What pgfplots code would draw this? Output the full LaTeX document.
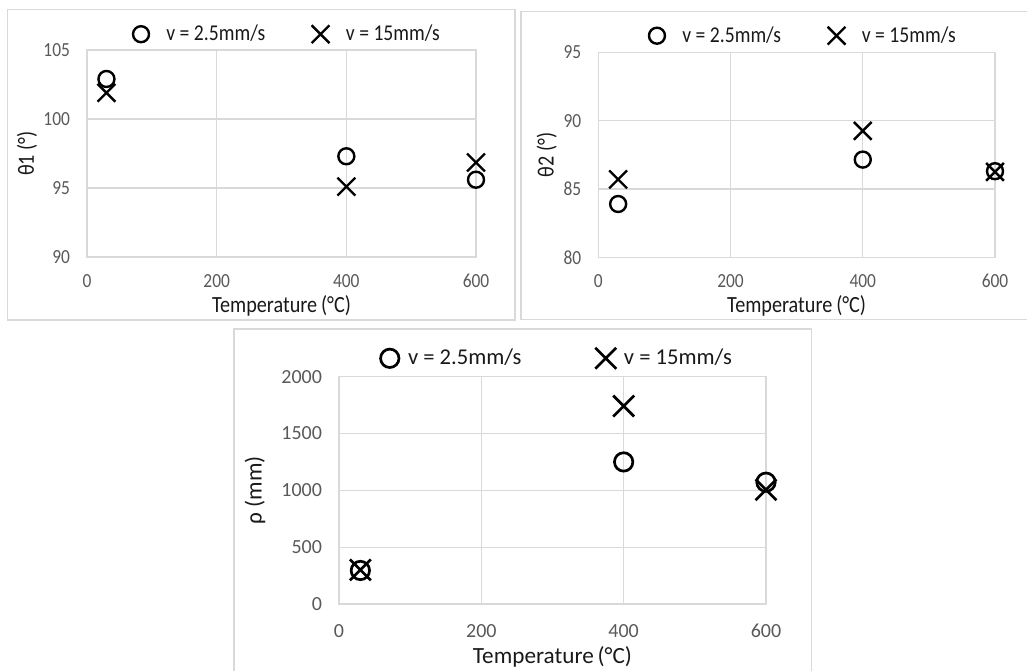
\documentclass[border=0pt]{standalone}
\usepackage{fontspec}
\setmainfont{Carlito}
\newfontfamily\fA{Carlito}[FakeStretch=0.87]
\newfontfamily\fB{Carlito}
\usepackage{pgfplots}
\pgfplotsset{compat=1.18}
\definecolor{gridc}{HTML}{D9D9D9}
\definecolor{tickc}{HTML}{595959}
\definecolor{framec}{HTML}{D9D9D9}
\def\LE{0.2cm}
\pgfplotsset{
  panel/.style={
    scale only axis,
    xmin=0, xmax=600,
    xtick={0,200,400,600},
    ymajorgrids, xmajorgrids,
    grid style={gridc, line width=0.6pt},
    axis line style={gridc, line width=0.6pt},
    major tick style={draw=none},
    /pgf/number format/assume math mode=true,
    /pgf/number format/1000 sep={},
    yticklabel style={xshift=-5pt},
    legend columns=2,
    xlabel={Temperature\,(°C)},
  },
  fontA/.style={
    tick label style={font=\fA\fontsize{10}{12}\selectfont, text=tickc},
    xticklabel style={yshift=-5pt},
    every axis x label/.style={at={([yshift=-24.4pt]axis description cs:0.5,0)}, anchor=center, font=\fA\fontsize{11.6}{13}\selectfont, text=black!90},
    legend style={draw=none, fill=none, font=\fA\fontsize{11.3}{13}\selectfont, text=black!90,
      /tikz/every odd column/.append style={column sep=5pt},
      /tikz/every even column/.append style={column sep=20pt}},
  },
  fontB/.style={
    tick label style={font=\fB\fontsize{10}{12}\selectfont, text=tickc},
    xticklabel style={yshift=-6.5pt},
    every axis x label/.style={at={([yshift=-26.4pt]axis description cs:0.5,0)}, anchor=center, font=\fB\fontsize{11.6}{13}\selectfont, text=black!90},
    legend style={draw=none, fill=none, font=\fB\fontsize{11.3}{13}\selectfont, text=black!90,
      /tikz/every even column/.append style={column sep=33pt}},
  },
  cmark/.style={only marks, mark=o, mark size=4pt, mark options={line width=1.2pt, draw=black},
    legend image code/.code={\path[draw=none,fill=none] (-\LE,-1pt) rectangle (\LE,1pt); \draw[##1,only marks] plot coordinates {(0cm,0cm)};}},
  xmark/.style={only marks, mark=x, mark size=6.3pt, mark options={line width=1.2pt, draw=black},
    legend image code/.code={\path[draw=none,fill=none] (-\LE,-1pt) rectangle (\LE,1pt); \draw[##1,only marks] plot coordinates {(0cm,0cm)};}},
}
\begin{document}
\begin{tikzpicture}
\path[use as bounding box] (0pt,0pt) rectangle (513.5pt,335pt);
% frames
\draw[framec, line width=0.7pt] (3.65pt,175pt) rectangle (257.5pt,330.35pt);
\draw[framec, line width=0.7pt] (513.5pt,329.15pt) -- (260.5pt,329.15pt) -- (260.5pt,175.35pt) -- (513.5pt,175.35pt);
\draw[framec, line width=0.7pt] (117pt,-2pt) -- (117pt,170.5pt) -- (405.85pt,170.5pt) -- (405.85pt,-2pt);

% Panel 1
\begin{axis}[panel, fontA, at={(43.5pt,206.5pt)}, anchor=south west,
  width=194.5pt, height=103.5pt,
  ymin=90, ymax=105, ytick={90,95,100,105},
  legend style={at={([yshift=7.9pt,xshift=2.6pt]axis description cs:0.5,1)}, anchor=center},
  every axis y label/.style={at={([xshift=-30pt]axis description cs:0,0.5)}, anchor=center, rotate=90, font=\fA\fontsize{11.6}{13}\selectfont, text=black!90},
  ylabel={θ1 (°)}]
\addplot[cmark] coordinates {(30,102.9) (400,97.3) (600,95.6)};
\addlegendentry{v = 2.5mm/s}
\addplot[xmark] coordinates {(30,101.9) (400,95.1) (600,96.85)};
\addlegendentry{v = 15mm/s}
\end{axis}

% Panel 2
\begin{axis}[panel, fontA, at={(299.15pt,206.35pt)}, anchor=south west,
  width=198.35pt, height=102.5pt,
  ymin=80, ymax=95, ytick={80,85,90,95},
  legend style={at={([yshift=8.3pt,xshift=3pt]axis description cs:0.5,1)}, anchor=center},
  every axis y label/.style={at={([xshift=-25.8pt]axis description cs:0,0.5)}, anchor=center, rotate=90, font=\fA\fontsize{11.6}{13}\selectfont, text=black!90},
  ylabel={θ2 (°)}]
\addplot[cmark] coordinates {(30,83.9) (400,87.15) (600,86.3)};
\addlegendentry{v = 2.5mm/s}
\addplot[xmark] coordinates {(30,85.7) (400,89.25) (600,86.25)};
\addlegendentry{v = 15mm/s}
\end{axis}

% Panel 3
\def\LE{0.25cm}
\begin{axis}[panel, fontB, at={(169.5pt,33pt)}, anchor=south west,
  width=213.5pt, height=113.65pt,
  ymin=0, ymax=2000, ytick={0,500,1000,1500,2000},
  legend style={at={([yshift=9.2pt,xshift=1.6pt]axis description cs:0.5,1)}, anchor=center},
  every axis y label/.style={at={([xshift=-42pt]axis description cs:0,0.5)}, anchor=center, rotate=90, font=\fB\fontsize{11.6}{13}\selectfont, text=black!90},
  ylabel={ρ (mm)},
  cmark/.append style={mark size=4.6pt, mark options={line width=1.35pt}},
  xmark/.append style={mark size=7.4pt, mark options={line width=1.35pt}}]
\addplot[cmark] coordinates {(30,295) (400,1250) (600,1072)};
\addlegendentry{v = 2.5mm/s}
\addplot[xmark] coordinates {(30,300) (400,1742) (600,1005)};
\addlegendentry{v = 15mm/s}
\end{axis}
\end{tikzpicture}
\end{document}
